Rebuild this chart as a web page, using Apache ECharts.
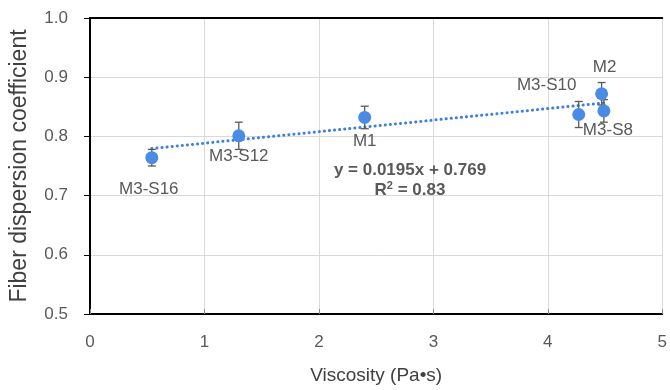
<!DOCTYPE html>
<html>
<head>
<meta charset="utf-8">
<script src="https://cdn.jsdelivr.net/npm/echarts@6/dist/echarts.min.js"></script>
<style>
html,body{margin:0;padding:0;background:#fff;}
#chart{width:670px;height:390px;}
</style>
</head>
<body>
<div id="chart"></div>
<script>
// ---- data ----
var sampleNames = ['M3-S16', 'M3-S12', 'M1', 'M3-S10', 'M2', 'M3-S8'];
var viscosity   = [0.54, 1.30, 2.40, 4.27, 4.47, 4.49];
var dispersion  = [0.764, 0.801, 0.832, 0.837, 0.872, 0.843];
var errorValues = [0.014, 0.023, 0.019, 0.022, 0.019, 0.019];
var trendSlope = 0.0195;
var trendIntercept = 0.769;
var trendR2 = 0.83;
var xTicks = [0, 1, 2, 3, 4, 5];
var yTicks = [0.5, 0.6, 0.7, 0.8, 0.9, 1.0];

// ---- styling (label placement per sample, px offsets from marker centre) ----
var labelOffsets = {
  'M3-S16': [-3, 32],
  'M3-S12': [0, 21],
  'M1':     [0, 24],
  'M3-S10': [-32, -29],
  'M2':     [3, -26],
  'M3-S8':  [4, 19]
};

var font = 'Liberation Sans, Arial, sans-serif';
var pts = sampleNames.map(function (n, i) {
  return {
    name: n,
    value: [viscosity[i], dispersion[i]],
    label: {show: true, formatter: n, position: 'inside', offset: labelOffsets[n],
            color: '#595959', fontSize: 17, fontFamily: font}
  };
});
var errData = sampleNames.map(function (n, i) {
  return [viscosity[i], dispersion[i] - errorValues[i], dispersion[i] + errorValues[i]];
});
var xMin = Math.min.apply(null, viscosity), xMax = Math.max.apply(null, viscosity);
var trendData = [[xMin, trendSlope * xMin + trendIntercept], [xMax, trendSlope * xMax + trendIntercept]];

var frameAxis = {show: true, lineStyle: {color: '#000', width: 2}};
var chart = echarts.init(document.getElementById('chart'), null, {renderer: 'canvas'});
chart.setOption({
  animation: false,
  backgroundColor: '#fff',
  grid: {left: 87, right: 3, top: 18, bottom: 68},
  xAxis: [{
    type: 'value', min: xTicks[0], max: xTicks[xTicks.length - 1], interval: 1,
    name: 'Viscosity (Pa•s)', nameLocation: 'middle', nameGap: 52,
    nameTextStyle: {color: '#404040', fontSize: 19, fontFamily: font},
    axisLine: frameAxis,
    axisTick: {show: true, inside: true, length: 5, lineStyle: {color: '#888'}},
    axisLabel: {color: '#595959', fontSize: 17, fontFamily: font, margin: 20},
    splitLine: {show: true, lineStyle: {color: '#d9d9d9', width: 1}}
  }, {
    type: 'value', position: 'top', min: xTicks[0], max: xTicks[xTicks.length - 1], interval: 1,
    axisLine: frameAxis, axisTick: {show: false}, axisLabel: {show: false}, splitLine: {show: false}
  }],
  yAxis: [{
    type: 'value', min: yTicks[0], max: yTicks[yTicks.length - 1], interval: 0.1,
    name: 'Fiber dispersion coefficient', nameLocation: 'middle', nameGap: 59,
    nameTextStyle: {color: '#404040', fontSize: 23, fontFamily: font},
    axisLine: frameAxis,
    axisTick: {show: true, inside: false, length: 6, lineStyle: {color: '#000'}},
    axisLabel: {color: '#595959', fontSize: 17, fontFamily: font, margin: 22,
                formatter: function (v) { return v.toFixed(1); }},
    splitLine: {show: true, lineStyle: {color: '#d9d9d9', width: 1}}
  }, {
    type: 'value', position: 'right', min: yTicks[0], max: yTicks[yTicks.length - 1], interval: 0.1,
    axisLine: frameAxis, axisTick: {show: false}, axisLabel: {show: false}, splitLine: {show: false}
  }],
  series: [
    {
      type: 'line', data: trendData, symbol: 'none', z: 2,
      lineStyle: {color: '#3d7fe0', width: 3, type: [0.1, 5], cap: 'round'}
    },
    {
      type: 'custom', z: 3,
      data: errData,
      encode: {x: 0, y: [1, 2]},
      renderItem: function (params, api) {
        var lo = api.coord([api.value(0), api.value(1)]);
        var hi = api.coord([api.value(0), api.value(2)]);
        var w = 4;
        var st = {stroke: '#595959', lineWidth: 1.3};
        return {type: 'group', children: [
          {type: 'line', shape: {x1: lo[0], y1: lo[1], x2: hi[0], y2: hi[1]}, style: st},
          {type: 'line', shape: {x1: lo[0] - w, y1: lo[1], x2: lo[0] + w, y2: lo[1]}, style: st},
          {type: 'line', shape: {x1: hi[0] - w, y1: hi[1], x2: hi[0] + w, y2: hi[1]}, style: st}
        ]};
      }
    },
    {
      type: 'scatter', data: pts, symbol: 'circle', symbolSize: 13, z: 4,
      itemStyle: {color: '#4a8ce4', opacity: 1}
    }
  ],
  graphic: [
    {type: 'text', x: 410, y: 170, z: 10,
     style: {text: 'y = 0.0195x + 0.769', fill: '#595959', font: 'bold 17px ' + font,
             align: 'center', verticalAlign: 'middle'}},
    {type: 'text', x: 410, y: 190, z: 10,
     style: {rich: {n: {fill: '#595959', font: 'bold 17px ' + font},
                    s: {fill: '#595959', font: 'bold 11px ' + font, padding: [0, 0, 8, 0]}},
             text: '{n|R}{s|2}{n| = ' + trendR2.toFixed(2) + '}',
             align: 'center', verticalAlign: 'middle'}}
  ]
});
</script>
</body>
</html>
